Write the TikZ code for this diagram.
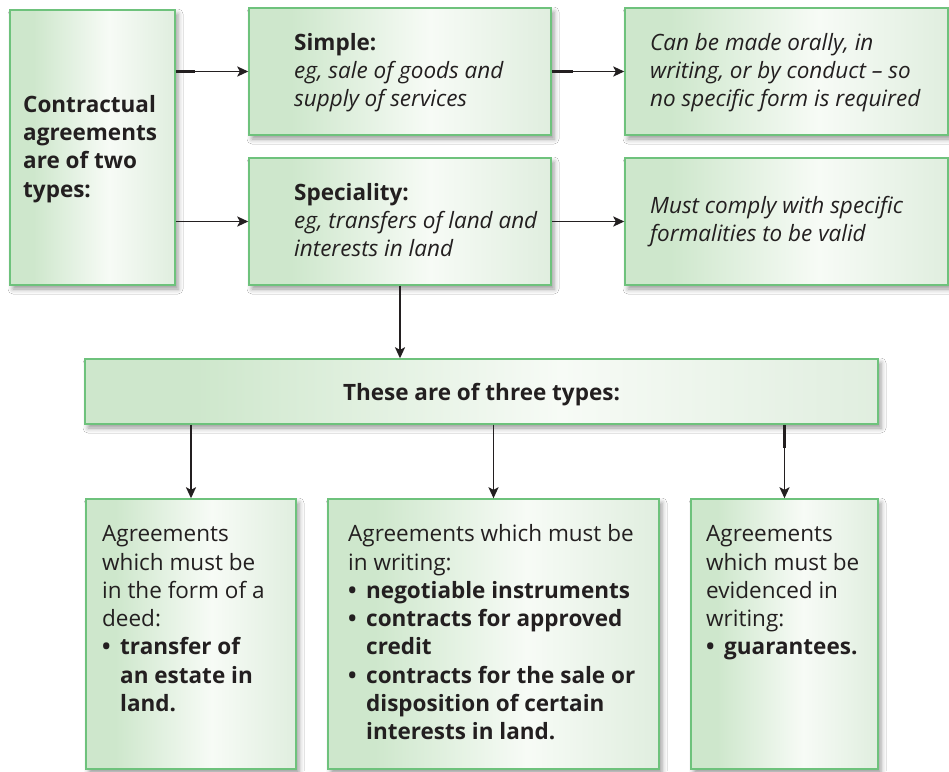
\documentclass[tikz,border=0pt]{standalone}
\usepackage{fontspec}
\setmainfont{Open Sans}
\usetikzlibrary{arrows.meta,shadows.blur}

\definecolor{gL}{RGB}{206,231,204}
\definecolor{gW}{RGB}{247,251,246}
\definecolor{gR}{RGB}{224,238,223}
\definecolor{edge}{RGB}{110,194,124}
\definecolor{ink}{RGB}{35,31,32}

% green on the left, almost white just past the middle, pale green on the right
\pgfdeclarehorizontalshading{boxfill}{100bp}{color(0bp)=(gL); color(25bp)=(gL); color(32bp)=(gL); color(55bp)=(gW); color(75bp)=(gR); color(100bp)=(gR)}

\newcommand\txtsize{\fontsize{22.5}{28.3}\selectfont}
\newcommand\bulitem{\makebox[18pt][l]{\textbf{\textbullet}}}
\newcommand\hangpad{\hspace*{18pt}}

\begin{document}
\begin{tikzpicture}[x=1pt,y=-1pt,
  box/.style={draw=edge, line width=1.4pt, shading=boxfill, inner sep=0pt,
    blur shadow={shadow xshift=3pt, shadow yshift=-4pt, shadow blur radius=5pt, shadow opacity=40}},
  txt/.style={anchor=north west, inner sep=0pt, align=left, text=ink, font=\txtsize},
  link/.style={draw=ink, line width=1.8pt, -{Stealth[length=11pt,width=10pt,inset=2.5pt]}},
  stub/.style={draw=ink, line width=2.8pt}]

\clip (0,0) rectangle (949,771);
\fill[white] (0,0) rectangle (949,771);

% boxes
\node[box, minimum width=165pt, minimum height=275pt] (left) at (92.5,147.5) {};
\node[box, minimum width=302pt, minimum height=127pt] (simple) at (400,71.5) {};
\node[box, minimum width=302pt, minimum height=127pt] (spec) at (400,221.5) {};
\node[box, minimum width=323pt, minimum height=127pt] (oral) at (786.5,71.5) {};
\node[box, minimum width=323pt, minimum height=127pt] (formal) at (786.5,221.5) {};
\node[box, minimum width=793pt, minimum height=65pt] (three) at (481.5,391.5) {};
\node[box, minimum width=210pt, minimum height=270pt] (deed) at (191,634) {};
\node[box, minimum width=331pt, minimum height=270pt] (writing) at (493.5,634) {};
\node[box, minimum width=187pt, minimum height=270pt] (evidence) at (784.5,634) {};

% texts
\node[txt] (tleft) at (23,92.2) {\strut\textbf{Contractual}\\\textbf{agreements}\\\textbf{are of two}\\\textbf{types:}};
\node[txt] (tsimple) at (294,30.2) {\strut\textbf{Simple:}\\\textit{eg, sale of goods and}\\\textit{supply of services}};
\node[txt] (toral) at (650,30.2) {\strut\textit{Can be made orally, in}\\\textit{writing, or by conduct \textendash\ so}\\\textit{no specific form is required}};
\node[txt] (tspec) at (294,180.2) {\strut\textbf{Speciality:}\\\textit{eg, transfers of land and}\\\textit{interests in land}};
\node[txt] (tformal) at (650,193.2) {\strut\textit{Must comply with specific}\\\textit{formalities to be valid}};
\node[txt, anchor=base] (tthree) at (481.5,400) {\textbf{These are of three types:}};
\node[txt] (tdeed) at (102,521.7) {\strut Agreements\\which must be\\in the form of a\\deed:\\\bulitem\textbf{transfer of}\\\hangpad\textbf{an estate in}\\\hangpad\textbf{land.}};
\node[txt] (twriting) at (348,521.7) {\strut Agreements which must be\\in writing:\\\bulitem\textbf{negotiable instruments}\\\bulitem\textbf{contracts for approved}\\\hangpad\textbf{credit}\\\bulitem\textbf{contracts for the sale or}\\\hangpad\textbf{disposition of certain}\\\hangpad\textbf{interests in land.}};
\node[txt] (tevidence) at (706,521.7) {\strut Agreements\\which must be\\evidenced in\\writing:\\\bulitem\textbf{guarantees.}};

% connectors
\draw[stub] (left.east |- simple.west) -- ++(19,0);
\draw[link] (left.east |- simple.west) -- (simple.west);
\draw[link] (left.east |- spec.west) -- (spec.west);
\draw[stub] (simple.east) -- ++(21,0);
\draw[link] (simple.east) -- (oral.west);
\draw[link] (spec.east) -- (formal.west);
\draw[link] (spec.south) -- (three.north -| spec.south);
\draw[link] (three.south -| deed.north) -- (deed.north);
\draw[link] (three.south -| writing.north) -- (writing.north);
\draw[stub] (three.south -| evidence.north) -- ++(0,23);
\draw[link] (three.south -| evidence.north) -- (evidence.north);
\end{tikzpicture}
\end{document}
